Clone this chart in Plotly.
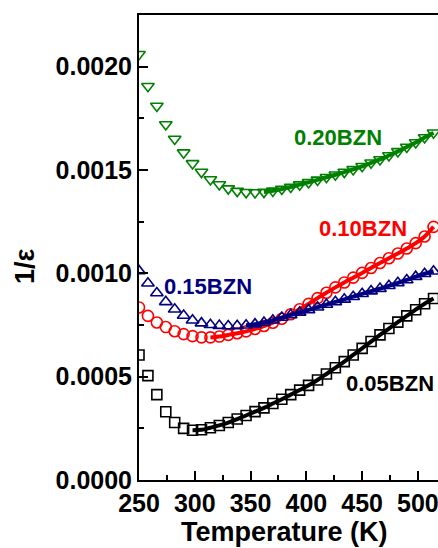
import plotly.graph_objects as go

# Temperature grid (K)
T = [250, 258, 266, 274, 282, 290, 298, 306, 314, 322, 330, 338, 346, 354, 362, 370, 378,
     386, 394, 402, 410, 418, 426, 434, 442, 450, 458, 466, 474, 482, 490, 498, 506, 514]

inv_eps_005 = [0.000605, 0.000505, 0.000413, 0.000330, 0.000278, 0.000250, 0.000241, 0.000243,
               0.000253, 0.000264, 0.000278, 0.000295, 0.000312, 0.000331, 0.000349, 0.000370,
               0.000391, 0.000413, 0.000435, 0.000458, 0.000484, 0.000513, 0.000543, 0.000573,
               0.000605, 0.000637, 0.000670, 0.000702, 0.000733, 0.000764, 0.000794, 0.000824,
               0.000853, 0.000878]

inv_eps_010 = [0.000835, 0.000794, 0.000762, 0.000740, 0.000720, 0.000706, 0.000696, 0.000690,
               0.000690, 0.000694, 0.000702, 0.000710, 0.000719, 0.000731, 0.000745, 0.000761,
               0.000780, 0.000802, 0.000826, 0.000852, 0.000880, 0.000906, 0.000932, 0.000956,
               0.000979, 0.001002, 0.001026, 0.001050, 0.001073, 0.001096, 0.001120, 0.001146,
               0.001178, 0.001225]

inv_eps_015 = [0.001012, 0.000952, 0.000905, 0.000862, 0.000826, 0.000796, 0.000773, 0.000759,
               0.000751, 0.000747, 0.000745, 0.000746, 0.000749, 0.000754, 0.000762, 0.000773,
               0.000786, 0.000799, 0.000811, 0.000823, 0.000836, 0.000849, 0.000862, 0.000874,
               0.000887, 0.000901, 0.000914, 0.000926, 0.000940, 0.000954, 0.000968, 0.000984,
               0.000998, 0.001010]

inv_eps_020 = [0.002060, 0.001905, 0.001810, 0.001720, 0.001650, 0.001584, 0.001532, 0.001490,
               0.001454, 0.001430, 0.001410, 0.001398, 0.001392, 0.001391, 0.001393, 0.001399,
               0.001408, 0.001418, 0.001429, 0.001440, 0.001452, 0.001465, 0.001477, 0.001490,
               0.001503, 0.001518, 0.001535, 0.001551, 0.001570, 0.001590, 0.001611, 0.001633,
               0.001657, 0.001680]

labels = ["0.05BZN", "0.10BZN", "0.15BZN", "0.20BZN"]
fit_start = [298, 314, 346, 362]  # K, start of fitted line
colors = ["#000000", "#ff0000", "#000080", "#008000"]
symbols = ["square-open", "circle-open", "triangle-up-open", "triangle-down-open"]
sizes = [10, 11, 11, 11]
series = [inv_eps_005, inv_eps_010, inv_eps_015, inv_eps_020]
label_pos = [(475, 0.000465), (450.7, 0.001215), (311.8, 0.000937), (428.3, 0.001655)]

FONT = "Liberation Sans, Arial, sans-serif"

fig = go.Figure()
for y, c, s, sz, ts in zip(series, colors, symbols, sizes, fit_start):
    fig.add_trace(go.Scatter(x=T, y=y, mode="markers",
                             marker=dict(symbol=s, size=sz, color=c, line=dict(color=c, width=1.6)),
                             showlegend=False))
    tx = [t for t in T if t >= ts]
    ty = [v for t, v in zip(T, y) if t >= ts]
    fig.add_trace(go.Scatter(x=tx, y=ty, mode="lines", line=dict(color=c, width=4, shape="spline"),
                             showlegend=False))

for lab, c, (lx, ly) in zip(labels, colors, label_pos):
    fig.add_annotation(x=lx, y=ly, text="<b>%s</b>" % lab, showarrow=False,
                       font=dict(family=FONT, size=22, color=c), xanchor="center", yanchor="middle")

fig.add_annotation(xref="paper", yref="paper", x=(284 - 139) / 299, y=-(532 - 480) / 465,
                   text="<b>Temperature (K)</b>", showarrow=False,
                   font=dict(family=FONT, size=27, color="black"), xanchor="center", yanchor="middle")
fig.add_annotation(xref="paper", yref="paper", x=-(139 - 25) / 299, y=(480 - 266) / 465,
                   text="<b>1/ε</b>", showarrow=False, textangle=-90,
                   font=dict(family=FONT, size=27, color="black"), xanchor="center", yanchor="middle")

fig.update_layout(
    width=438, height=548,
    margin=dict(l=139, r=0, t=15, b=68),
    plot_bgcolor="white", paper_bgcolor="white",
    font=dict(family=FONT, color="black"),
    xaxis=dict(range=[250, 518], tickvals=[250, 300, 350, 400, 450, 500],
               ticktext=["<b>%d</b>" % v for v in [250, 300, 350, 400, 450, 500]],
               ticklabeloverflow="allow",
               ticks="inside", ticklen=9, tickwidth=2, tickcolor="black",
               showline=True, linewidth=2, linecolor="black", mirror=True,
               showgrid=False, zeroline=False,
               tickfont=dict(family=FONT, size=25, color="black"),
               minor=dict(ticks="inside", ticklen=5, tickwidth=2, tickcolor="black", dtick=25, tick0=250)),
    yaxis=dict(range=[0, 0.00225], tickvals=[0, 0.0005, 0.001, 0.0015, 0.002],
               ticktext=["<b>%.4f</b>" % v for v in [0, 0.0005, 0.001, 0.0015, 0.002]],
               ticks="inside", ticklen=9, tickwidth=2, tickcolor="black",
               showline=True, linewidth=2, linecolor="black", mirror=False,
               showgrid=False, zeroline=False,
               tickfont=dict(family=FONT, size=25, color="black"),
               minor=dict(ticks="inside", ticklen=5, tickwidth=2, tickcolor="black", dtick=0.00025, tick0=0)),
)

fig.write_html("out.html")
